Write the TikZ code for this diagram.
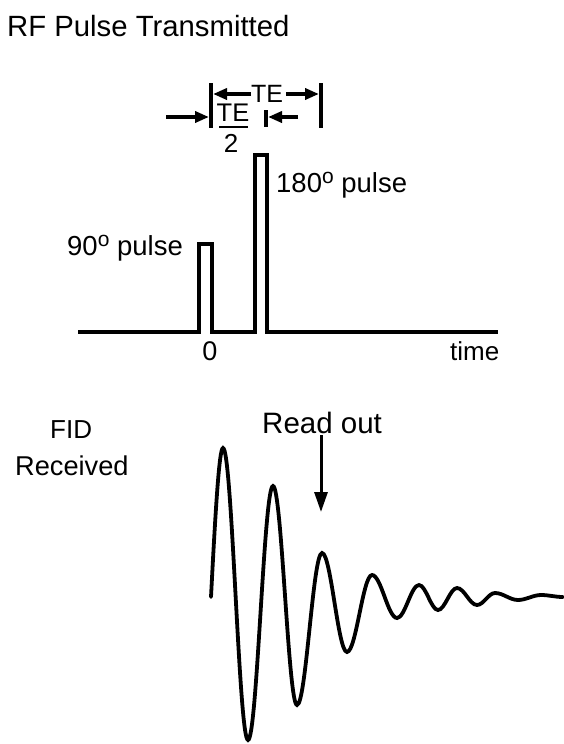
\documentclass[tikz,border=0pt]{standalone}
\usepackage{fontspec}
\setmainfont{Liberation Sans}
\usetikzlibrary{arrows.meta}
\newcommand\degsup{\raisebox{9pt}{\fontsize{21}{21}\selectfont o}}
\begin{document}
\begin{tikzpicture}[x=1pt,y=-1pt,
  lbl/.style={inner sep=0pt,anchor=base west},
  thick line/.style={line width=4pt},
  bar/.style={line width=3.6pt},
  arr/.style={line width=3.6pt,-{Triangle[length=14pt,width=11pt]}},
  wave/.style={line width=3.8pt,line cap=round}]
\useasboundingbox (0,0) rectangle (564,744);
% texts
\node[lbl] (title) at (7,36) {\fontsize{29.3}{31}\selectfont RF Pulse Transmitted};
\node[lbl] (fid) at (50,438) {\fontsize{26}{28}\selectfont FID};
\node[lbl] (rec) at (15,475) {\fontsize{27.2}{29}\selectfont Received};
\node[lbl] (read) at (262,433) {\fontsize{29.5}{31}\selectfont Read out};
\node[lbl] (p90) at (67,255) {\fontsize{27.5}{29}\selectfont 90\degsup\ pulse};
\node[lbl] (p180) at (276,192) {\fontsize{27.5}{29}\selectfont 180\degsup\ pulse};
\node[lbl,anchor=base] (zero) at (210,360) {\fontsize{27}{29}\selectfont 0};
\node[lbl] (time) at (450,360) {\fontsize{26}{28}\selectfont time};
\node[lbl,anchor=base] (te) at (267,102) {\fontsize{25}{27}\selectfont TE};
\node[lbl,anchor=base] (te2) at (233,121) {\fontsize{25.5}{27}\selectfont TE};
\node[lbl,anchor=base] (two) at (231,152) {\fontsize{26}{28}\selectfont 2};
% fraction bar
\draw[line width=2.4pt] (219,127) -- (248,127);
% pulse sequence
\draw[thick line] (78,332) -- (199,332) -- (199,244) -- (212,244) -- (212,332)
  -- (255,332) -- (255,155) -- (267,155) -- (267,332) -- (498,332);
% marker bars
\coordinate (b1t) at (211,83); \coordinate (b1b) at (211,128);
\coordinate (b2t) at (321,83); \coordinate (b2b) at (321,128);
\coordinate (b3t) at (266,110); \coordinate (b3b) at (266,127);
\draw[bar] (b1t) -- (b1b);
\draw[bar] (b2t) -- (b2b);
\draw[bar] (b3t) -- (b3b);
% arrows
\coordinate (a1s) at (251,94); \coordinate (a1e) at (213,94);
\coordinate (a2s) at (286,94); \coordinate (a2e) at (319,94);
\coordinate (a3s) at (166,117); \coordinate (a3e) at (209,117);
\coordinate (a4s) at (298,117); \coordinate (a4e) at (268,117);
\draw[arr] (a1s) -- (a1e);
\draw[arr] (a2s) -- (a2e);
\draw[arr] (a3s) -- (a3e);
\draw[arr] (a4s) -- (a4e);
\coordinate (rs) at (321,435); \coordinate (re) at (321,512);
\draw[line width=3pt,-{Triangle[length=20pt,width=13pt]}] (rs) -- (re);
% FID wave
\draw[wave] (211,597) .. controls (215,520) and (219,448) .. (223,448)
  .. controls (232.1,448) and (238.9,740) .. (248,740)
  .. controls (257.1,740) and (263.9,486) .. (273,486)
  .. controls (281.7,486) and (288.3,705) .. (297,705)
  .. controls (306.1,705) and (312.9,553) .. (322,553)
  .. controls (331.1,553) and (337.9,652) .. (347,652)
  .. controls (356.1,652) and (362.9,575) .. (372,575)
  .. controls (381.1,575) and (387.9,618) .. (397,618)
  .. controls (405,618) and (411,585) .. (419,585)
  .. controls (425.9,585) and (431.1,610) .. (438,610)
  .. controls (444.9,610) and (450.1,588) .. (457,588)
  .. controls (464.3,588) and (469.7,605) .. (477,605)
  .. controls (483.5,605) and (488.5,593) .. (495,593)
  .. controls (503.3,593) and (509.7,600) .. (518,600)
  .. controls (526,600) and (533,595) .. (541,595)
  .. controls (549,595) and (555,597) .. (563,597);
\end{tikzpicture}
\end{document}
